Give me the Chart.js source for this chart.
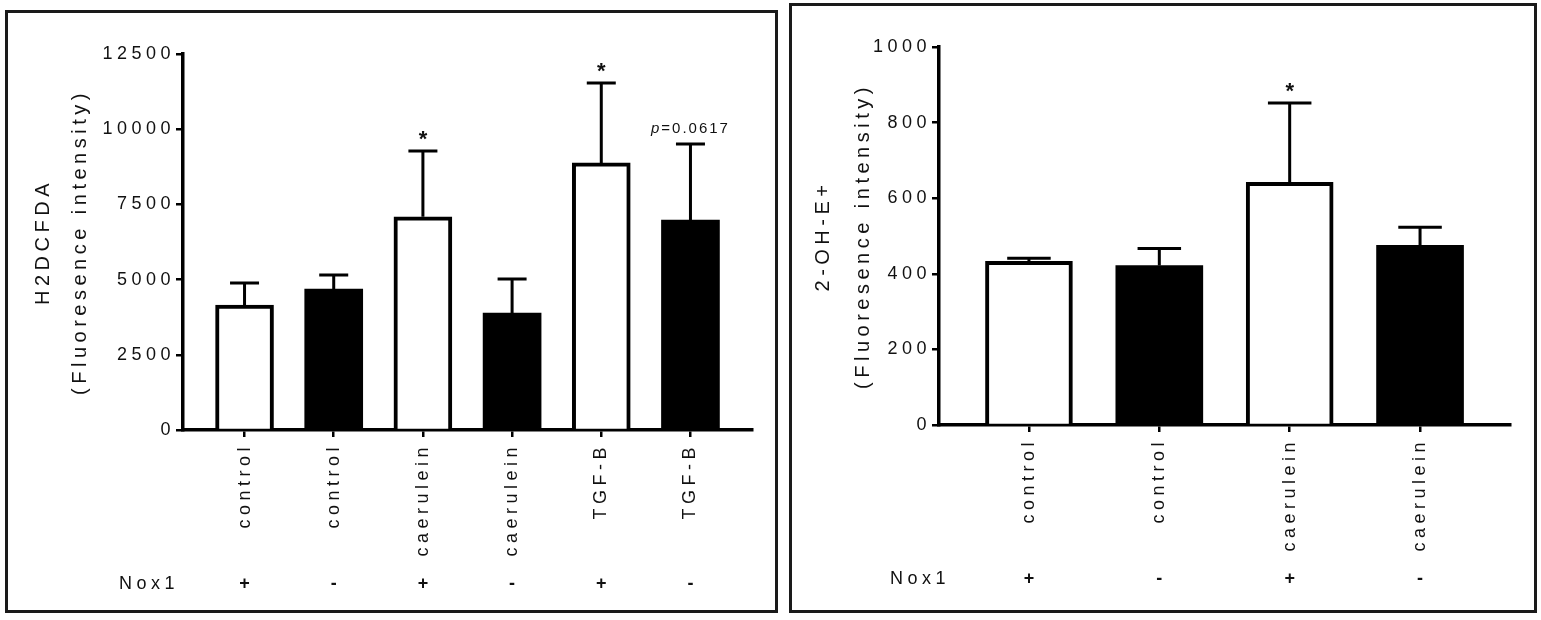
<!DOCTYPE html>
<html>
<head>
<meta charset="utf-8">
<script src="https://cdn.jsdelivr.net/npm/chart.js@4"></script>
<style>
  body { margin: 0; background: #fff; }
  .panel { position: absolute; box-sizing: border-box; border: 3px solid #1a1a1a; background: #fff; }
</style>
</head>
<body>
<div class="panel" style="left:5px;top:10px;width:773px;height:603px"><canvas id="leftChart"></canvas></div>
<div class="panel" style="left:789px;top:3px;width:748px;height:610px"><canvas id="rightChart"></canvas></div>
<script>
// Left panel: H2DCFDA
const leftCategories = ['control', 'control', 'caerulein', 'caerulein', 'TGF-B', 'TGF-B'];
const leftNox1 = ['+', '-', '+', '-', '+', '-'];
const leftMeans = [4155, 4685, 7090, 3890, 8880, 6980];
const leftErrors = [735, 470, 2185, 1130, 2655, 2530];
const leftMarks = ['', '', '*', '', '*', 'p=0.0617'];
const leftTicks = [0, 2500, 5000, 7500, 10000, 12500];

// Right panel: 2-OH-E+
const rightCategories = ['control', 'control', 'caerulein', 'caerulein'];
const rightNox1 = ['+', '-', '+', '-'];
const rightMeans = [433, 422, 642, 475];
const rightErrors = [8, 45, 210, 48];
const rightMarks = ['', '', '*', ''];
const rightTicks = [0, 200, 400, 600, 800, 1000];

const FONT = 'Arial, "Liberation Sans", sans-serif';
const INK = '#111';

function spacing(chart) {
    chart.ctx.letterSpacing = '4.5px';
}

// error bars, significance marks and the Nox1 row
const extrasPlugin = {
    id: 'extras',
    beforeUpdate: spacing,
    beforeLayout: spacing,
    beforeDraw: spacing,
    afterDatasetsDraw(chart) {
        const o = chart.options.plugins.extras;
        const ctx = chart.ctx;
        const y = chart.scales.y;
        const bars = chart.getDatasetMeta(0).data;
        ctx.save();
        ctx.strokeStyle = '#000';
        ctx.lineWidth = 3;
        bars.forEach((bar, i) => {
            const top = y.getPixelForValue(o.means[i] + o.errors[i]);
            const half = bar.width / 4;
            ctx.beginPath();
            ctx.moveTo(bar.x, bar.y);
            ctx.lineTo(bar.x, top);
            ctx.moveTo(bar.x - half, top);
            ctx.lineTo(bar.x + half, top);
            ctx.stroke();

            const mark = o.marks[i];
            if (mark === '*') {
                ctx.font = 'bold 22px ' + FONT;
                ctx.letterSpacing = '0px';
                ctx.fillStyle = INK;
                ctx.textAlign = 'center';
                ctx.textBaseline = 'alphabetic';
                ctx.fillText('*', bar.x, top - 5);
            } else if (mark.startsWith('p=')) {
                ctx.letterSpacing = '2px';
                ctx.fillStyle = INK;
                ctx.textBaseline = 'alphabetic';
                ctx.textAlign = 'left';
                const rest = mark.slice(1);
                ctx.font = 'italic 15px ' + FONT;
                const wp = ctx.measureText('p').width;
                ctx.font = '15px ' + FONT;
                const wr = ctx.measureText(rest).width;
                const x0 = bar.x - (wp + wr) / 2;
                ctx.font = 'italic 15px ' + FONT;
                ctx.fillText('p', x0, top - 11);
                ctx.font = '15px ' + FONT;
                ctx.fillText(rest, x0 + wp, top - 11);
            }
        });
        ctx.restore();
    },
    afterDraw(chart) {
        const o = chart.options.plugins.extras;
        const ctx = chart.ctx;
        const x = chart.scales.x;
        const rowY = chart.chartArea.bottom + 154;
        ctx.save();
        ctx.letterSpacing = '4.5px';
        ctx.fillStyle = INK;
        ctx.font = '18px ' + FONT;
        ctx.textBaseline = 'middle';
        ctx.textAlign = 'right';
        ctx.fillText('Nox1', chart.chartArea.left + o.noxShift, rowY);
        ctx.textAlign = 'center';
        ctx.font = 'bold 18px ' + FONT;
        ctx.letterSpacing = '0px';
        o.nox.forEach((s, i) => {
            ctx.fillText(s, x.getPixelForValue(i), rowY);
        });
        ctx.restore();
    }
};

function makeChart(id, cfg) {
    const data = cfg.means.map((v, i) => ({ x: i, y: v }));
    return new Chart(document.getElementById(id), {
        type: 'bar',
        data: {
            datasets: [{
                data: data,
                barThickness: cfg.barWidth,
                backgroundColor: (c) => c.dataIndex % 2 ? '#000' : '#fff',
                borderColor: '#000',
                borderWidth: (c) => c.dataIndex % 2 ? 0 : 4,
                borderSkipped: 'bottom'
            }]
        },
        options: {
            responsive: true,
            maintainAspectRatio: false,
            animation: false,
            layout: { padding: { top: 41, right: cfg.padRight, left: 0, bottom: 0 } },
            plugins: {
                legend: { display: false },
                tooltip: { enabled: false },
                extras: {
                    means: cfg.means,
                    errors: cfg.errors,
                    marks: cfg.marks,
                    nox: cfg.nox,
                    noxShift: cfg.noxShift
                }
            },
            scales: {
                x: {
                    type: 'linear',
                    min: -0.69,
                    max: cfg.categories.length - 1 + 0.69,
                    offset: false,
                    afterBuildTicks: (s) => { s.ticks = cfg.categories.map((_, i) => ({ value: i })); },
                    afterFit: (s) => { s.height = cfg.xHeight; },
                    border: { display: true, color: '#000', width: 3.5 },
                    grid: { offset: false, drawOnChartArea: false, drawTicks: true, tickLength: 7, color: '#000', lineWidth: 2.5 },
                    ticks: {
                        autoSkip: false,
                        minRotation: 90,
                        maxRotation: 90,
                        padding: 6,
                        color: INK,
                        font: { family: FONT, size: 18 },
                        callback: (v) => cfg.categories[v]
                    }
                },
                y: {
                    min: 0,
                    max: cfg.yTicks[cfg.yTicks.length - 1],
                    afterBuildTicks: (s) => { s.ticks = cfg.yTicks.map(v => ({ value: v })); },
                    afterFit: (s) => { s.width = cfg.yWidth; },
                    border: { display: true, color: '#000', width: 3.5 },
                    grid: { drawOnChartArea: false, drawTicks: true, tickLength: 7, color: '#000', lineWidth: 2.5 },
                    ticks: {
                        padding: 1,
                        color: INK,
                        font: { family: FONT, size: 18 },
                        callback: (v) => String(v)
                    },
                    title: {
                        display: true,
                        text: cfg.title,
                        color: INK,
                        font: { family: FONT, size: 20, lineHeight: cfg.titleLine },
                        padding: { top: cfg.titlePad, bottom: 0 }
                    }
                }
            }
        },
        plugins: [extrasPlugin]
    });
}

makeChart('leftChart', {
    categories: leftCategories,
    means: leftMeans,
    errors: leftErrors,
    marks: leftMarks,
    nox: leftNox1,
    yTicks: leftTicks,
    title: ['H2DCFDA', '(Fluoresence intensity)'],
    barWidth: 58,
    padRight: 23,
    xHeight: 180,
    yWidth: 175,
    titleLine: 1.85,
    titlePad: 17,
    noxShift: -4
});

makeChart('rightChart', {
    categories: rightCategories,
    means: rightMeans,
    errors: rightErrors,
    marks: rightMarks,
    nox: rightNox1,
    yTicks: rightTicks,
    title: ['2-OH-E+', '(Fluoresence intensity)'],
    barWidth: 87,
    padRight: 24,
    xHeight: 185,
    yWidth: 147,
    titleLine: 2,
    titlePad: 11,
    noxShift: 11
});
</script>
</body>
</html>
